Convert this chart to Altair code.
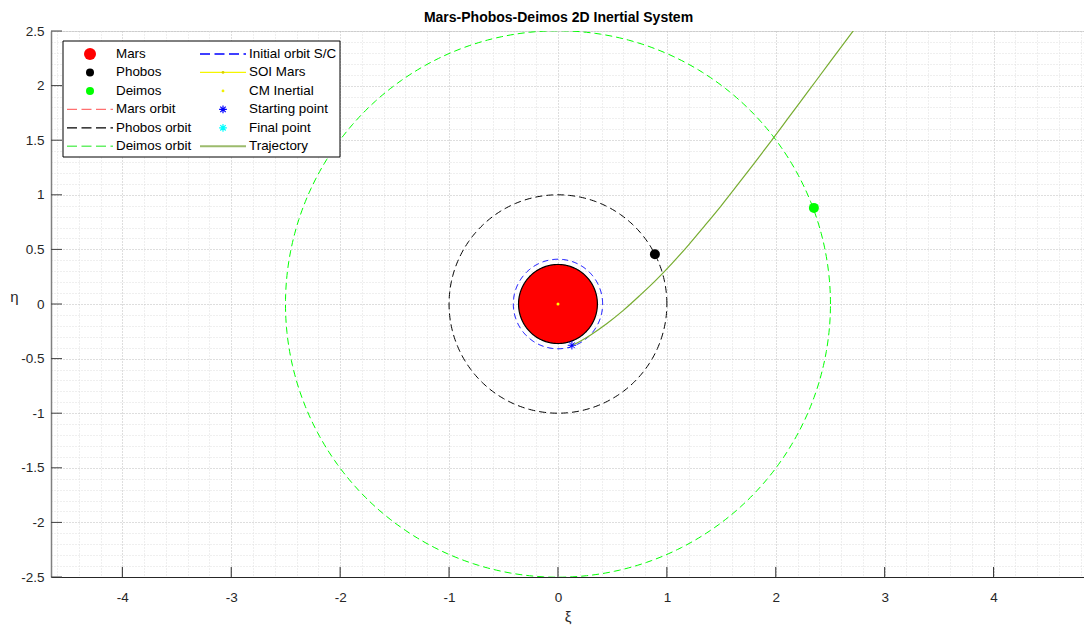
import altair as alt
import pandas as pd
import numpy as np

# ---------------- data (normalised units, Phobos orbit radius = 1) ----------------
R_MARS = 0.362          # Mars body radius
R_INIT = 0.41           # initial S/C orbit radius
R_PHOBOS = 1.0          # Phobos orbit radius
R_DEIMOS = 2.502        # Deimos orbit radius

phobos_pos = [0.89, 0.455]
deimos_pos = [2.35, 0.88]
cm_pos = [0.0, 0.0]
start_pos = [0.128, -0.378]

traj_xi = [0.128, 0.20, 0.30, 0.45, 0.60, 0.75, 0.90, 1.05, 1.20, 1.35,
           1.50, 1.65, 1.80, 1.95, 2.10, 2.30, 2.50, 2.72]
traj_eta = [-0.378, -0.343, -0.283, -0.178, -0.058, 0.077, 0.219, 0.375, 0.542, 0.72,
            0.902, 1.093, 1.286, 1.483, 1.683, 1.951, 2.219, 2.513]

legend_col1 = ["Mars", "Phobos", "Deimos", "Mars orbit", "Phobos orbit", "Deimos orbit"]
legend_col2 = ["Initial orbit S/C", "SOI Mars", "CM Inertial", "Starting point", "Final point", "Trajectory"]

x_major = [-4, -3, -2, -1, 0, 1, 2, 3, 4]
y_major = [-2.5, -2, -1.5, -1, -0.5, 0, 0.5, 1, 1.5, 2, 2.5]
x_grid = [round(v, 1) for v in np.arange(-4.6, 4.81, 0.2)]
y_grid = [round(v, 1) for v in np.arange(-2.5, 2.51, 0.1)]

# ---------------- layout ----------------
W, H = 1033, 546
XD = [-4.655, 4.83]
YD = [-2.5, 2.5]
FONT = "Liberation Sans"
PL, PT = 43, 23  # padding left / top  (plot origin at page 51,31)


def px2x(px):
    return XD[0] + (px - 51) * (XD[1] - XD[0]) / W


def py2y(py):
    return YD[1] - (py - 31) * (YD[1] - YD[0]) / H


sx = alt.Scale(domain=XD, nice=False, zero=False)
sy = alt.Scale(domain=YD, nice=False, zero=False)

is_int = "abs(datum.value - round(datum.value)) < 1e-6"
is_half = "abs(datum.value*2 - round(datum.value*2)) < 1e-6"

ax_x = alt.Axis(
    title="ξ", values=x_grid, labelExpr=f"{is_int} ? '' + datum.value : ''",
    grid=True, gridDash=[1, 2], gridWidth=1,
    gridColor={"condition": {"test": is_int, "value": "#bdbdbd"}, "value": "#dedede"},
    ticks=False, domainColor="#262626", domainWidth=1,
    labelFont=FONT, labelFontSize=13.5, labelColor="#262626", labelPadding=13,
    labelOverlap=False, labelFlush=False,
    titleFont=FONT, titleFontSize=15, titleFontWeight="normal", titleColor="#262626",
    titlePadding=6,
)
ax_y = alt.Axis(
    title="η", values=y_grid, labelExpr=f"{is_half} ? '' + datum.value : ''",
    grid=True, gridDash=[1, 2], gridWidth=1,
    gridColor={"condition": {"test": is_half, "value": "#bdbdbd"}, "value": "#dedede"},
    ticks=False, domainColor="#808080", domainWidth=1.5,
    labelFont=FONT, labelFontSize=13.5, labelColor="#262626", labelPadding=7,
    labelOverlap=False, labelFlush=False,
    titleFont=FONT, titleFontSize=15, titleFontWeight="normal", titleColor="#262626",
    titleAngle=0, titleX=-37, titleY=265, titleAlign="center", titleBaseline="middle",
)


def X(f):
    return alt.X(f"{f}:Q", scale=sx, axis=ax_x)


def Y(f):
    return alt.Y(f"{f}:Q", scale=sy, axis=ax_y)


def circle_line(r, color, dash=None, width=1.0):
    kw = dict(color=color, strokeWidth=width, clip=True)
    if dash:
        kw["strokeDash"] = dash
    return (
        alt.Chart(alt.sequence(0, 361, 1, as_="t"))
        .transform_calculate(x=f"{r}*cos(datum.t*PI/180)", y=f"{r}*sin(datum.t*PI/180)")
        .mark_line(**kw)
        .encode(x=X("x"), y=Y("y"), order="t:Q")
    )


mars_disc = (
    alt.Chart(alt.sequence(0, 181, 1, as_="t"))
    .transform_calculate(x=f"{R_MARS}*cos(datum.t*PI/180)",
                         y=f"{R_MARS}*sin(datum.t*PI/180)",
                         y2=f"-{R_MARS}*sin(datum.t*PI/180)")
    .mark_area(color="#ff0000", opacity=1)
    .encode(x=X("x"), y=Y("y"), y2="y2:Q")
)
mars_outline = circle_line(R_MARS, "#000000", width=1.2)
phobos_orbit = circle_line(R_PHOBOS, "#000000", dash=[7, 4])
deimos_orbit = circle_line(R_DEIMOS, "#00ff00", dash=[7, 4])
init_orbit = circle_line(R_INIT, "#0000ff", dash=[6, 4])

ASTER = "M-1,0L1,0M0,-1L0,1M-0.7,-0.7L0.7,0.7M-0.7,0.7L0.7,-0.7"


def point(pos, color, size, shape="circle", filled=True):
    df = pd.DataFrame({"x": [pos[0]], "y": [pos[1]]})
    if filled:
        m = alt.Chart(df).mark_point(shape=shape, filled=True, fill=color, size=size, opacity=1, strokeWidth=0)
    else:
        m = alt.Chart(df).mark_point(shape=shape, filled=False, stroke=color, size=size, opacity=1, strokeWidth=1)
    return m.encode(x=X("x"), y=Y("y"))


phobos = point(phobos_pos, "#000000", 100)
deimos = point(deimos_pos, "#00ff00", 100)
cm = point(cm_pos, "#ffff00", 9)
start = point(start_pos, "#0000ff", 70, shape=ASTER, filled=False)

traj_df = pd.DataFrame({"x": traj_xi, "y": traj_eta, "i": range(len(traj_xi))})
traj = (
    alt.Chart(traj_df)
    .mark_line(color="#77ac30", strokeWidth=1.2, clip=True, interpolate="monotone")
    .encode(x=X("x"), y=Y("y"), order="i:Q")
)

# inward ticks
xticks = (
    alt.Chart(pd.DataFrame({"v": x_major}))
    .mark_rule(color="#262626", strokeWidth=1)
    .encode(x=X("v"), y=alt.value(H), y2=alt.value(H - 10))
)
yticks = (
    alt.Chart(pd.DataFrame({"v": y_major}))
    .mark_rule(color="#404040", strokeWidth=1)
    .encode(y=Y("v"), x=alt.value(0), x2=alt.value(11))
)

# ---------------- legend ----------------
rows = [54 + 18.45 * i for i in range(6)]
box = pd.DataFrame({"x": [px2x(63)], "x2": [px2x(340)], "y": [py2y(41)], "y2": [py2y(157)]})
leg_box = (
    alt.Chart(box)
    .mark_rect(fill="white", stroke="black", strokeWidth=1)
    .encode(x=X("x"), x2="x2:Q", y=Y("y"), y2="y2:Q")
)
txt = pd.DataFrame({
    "label": legend_col1 + legend_col2,
    "x": [px2x(116)] * 6 + [px2x(249)] * 6,
    "y": [py2y(r) for r in rows] * 2,
})
leg_text = (
    alt.Chart(txt)
    .mark_text(align="left", baseline="middle", font=FONT, fontSize=13.4, color="#000000")
    .encode(x=X("x"), y=Y("y"), text="label:N")
)

dashed = pd.DataFrame({
    "x": [px2x(67)] * 3 + [px2x(200)],
    "x2": [px2x(113)] * 3 + [px2x(246)],
    "y": [py2y(rows[3]), py2y(rows[4]), py2y(rows[5]), py2y(rows[0])],
    "c": ["#ff7070", "#000000", "#66f066", "#0000ff"],
})
leg_dashed = (
    alt.Chart(dashed)
    .mark_rule(strokeDash=[10, 4.5], strokeWidth=1.3)
    .encode(x=X("x"), x2="x2:Q", y=Y("y"), color=alt.Color("c:N", scale=None))
)
solid = pd.DataFrame({
    "x": [px2x(200)] * 2,
    "x2": [px2x(246)] * 2,
    "y": [py2y(rows[1]), py2y(rows[5])],
    "c": ["#f5f500", "#9cbb6c"],
    "w": [1.2, 2.0],
})
leg_solid = (
    alt.Chart(solid)
    .mark_rule()
    .encode(x=X("x"), x2="x2:Q", y=Y("y"), color=alt.Color("c:N", scale=None),
            strokeWidth=alt.StrokeWidth("w:Q", scale=None))
)
dots = pd.DataFrame({
    "x": [px2x(90)] * 3 + [px2x(223)] * 2,
    "y": [py2y(rows[0]), py2y(rows[1]), py2y(rows[2]), py2y(rows[1]), py2y(rows[2])],
    "c": ["#ff0000", "#000000", "#00ff00", "#d8d000", "#f0f000"],
    "s": [144, 64, 64, 8, 8],
})
leg_dots = (
    alt.Chart(dots)
    .mark_point(shape="circle", filled=True, opacity=1, strokeWidth=0)
    .encode(x=X("x"), y=Y("y"), fill=alt.Fill("c:N", scale=None), size=alt.Size("s:Q", scale=None))
)
asts = pd.DataFrame({
    "x": [px2x(223)] * 2,
    "y": [py2y(rows[3]), py2y(rows[4])],
    "c": ["#0000ff", "#00ffff"],
})
leg_ast = (
    alt.Chart(asts)
    .mark_point(shape=ASTER, filled=False, opacity=1, size=60, strokeWidth=1.2)
    .encode(x=X("x"), y=Y("y"), stroke=alt.Stroke("c:N", scale=None))
)

chart = (
    alt.layer(
        mars_disc, mars_outline, phobos_orbit, deimos_orbit, init_orbit,
        phobos, deimos, cm, traj, start, xticks, yticks,
        leg_box, leg_dashed, leg_solid, leg_dots, leg_ast, leg_text,
    )
    .properties(
        width=W, height=H,
        autosize=alt.AutoSizeParams(type="none"),
        padding={"left": PL, "top": PT, "right": 0, "bottom": 50},
        title=alt.TitleParams(
            "Mars-Phobos-Deimos 2D Inertial System", font=FONT, fontSize=14,
            fontWeight="bold", color="#000000", anchor="middle", dx=-9, dy=10, offset=9,
        ),
    )
    .configure_view(stroke=None)
    .configure(background="white")
)

chart.save("out.html", embed_options={"renderer": "svg", "actions": False})
